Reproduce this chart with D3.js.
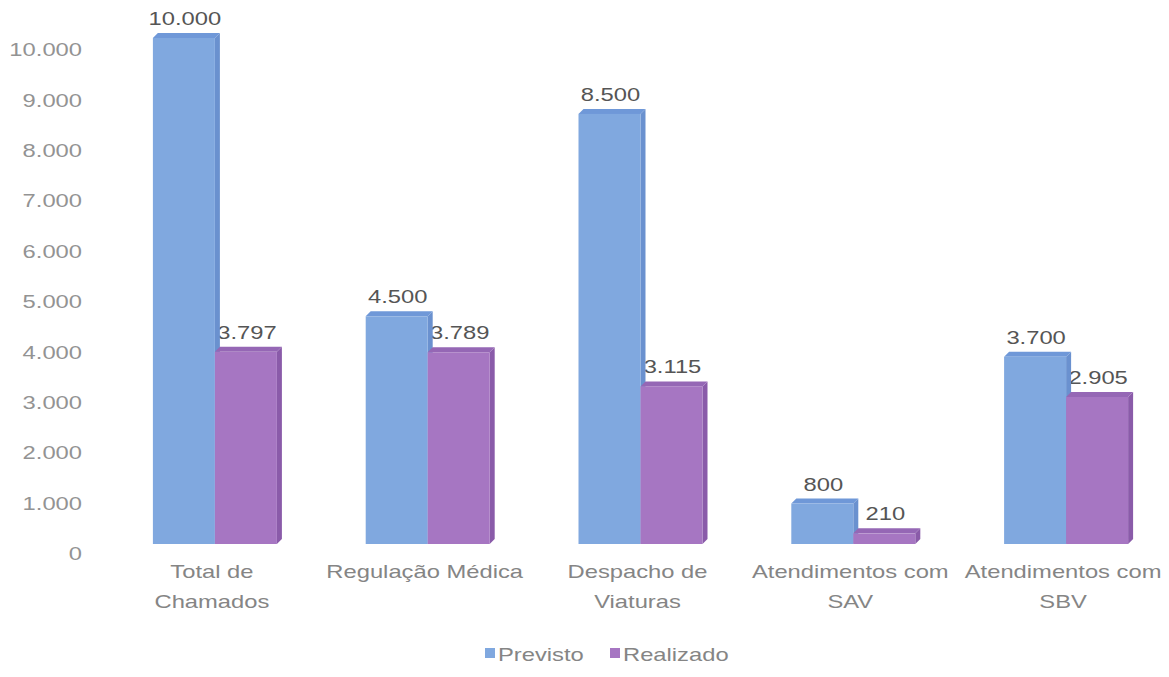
<!DOCTYPE html>
<html>
<head>
<meta charset="utf-8">
<script src="https://cdn.jsdelivr.net/npm/d3@7"></script>
<style>
  body { margin: 0; background: #fff; }
  text { font-family: "Liberation Sans", Arial, sans-serif; }
</style>
</head>
<body>
<div id="chart-area"></div>
<script>
// Data
let categories = [["Total de", "Chamados"], ["Regulação Médica"], ["Despacho de", "Viaturas"], ["Atendimentos com", "SAV"], ["Atendimentos com", "SBV"]];
let seriesNames = ["Previsto", "Realizado"];
let previsto = [10000, 4500, 8500, 800, 3700];
let realizado = [3797, 3789, 3115, 210, 2905];
let tickValues = [0, 1000, 2000, 3000, 4000, 5000, 6000, 7000, 8000, 9000, 10000];

let colors = {
    Previsto: {front: "#80a8df", top: "#6f98d8", side: "#6a91cf"},
    Realizado: {front: "#a676c2", top: "#9567b5", side: "#8a5ba9"}
};

let width = 1169, height = 677;
let stretch = 1.25; // text in the reference is wider than normal
let depth = {dx: 5, dy: -5};

let svg = d3.select("#chart-area").append("svg")
    .attr("width", width)
    .attr("height", height);

let fmt = v => d3.format(",")(v).replace(/,/g, ".");

// Scales
let x0 = d3.scaleBand()
    .domain(d3.range(categories.length))
    .range([108.5, 1172.5]);

let x1 = d3.scaleBand()
    .domain(seriesNames)
    .range([-62, 62]);

// axis labels sit on the back wall, bars a bit lower/forward
let yAxisScale = d3.scaleLinear().domain([0, 10000]).range([553, 49]);
let yBar = d3.scaleLinear().domain([0, 10000]).range([544, 38]);

function stretchText(sel, x, y) {
    sel.attr("transform", (d, i) => "translate(" + x(d, i) + "," + y(d, i) + ") scale(" + stretch + ",1)");
}

// Y axis labels
let yAxis = d3.axisLeft(yAxisScale)
    .tickValues(tickValues)
    .tickFormat(fmt)
    .tickSize(0)
    .tickPadding(0);

let yAxisGroup = svg.append("g")
    .attr("class", "y-axis")
    .attr("transform", "translate(82,0)")
    .call(yAxis);
yAxisGroup.select(".domain").remove();
yAxisGroup.selectAll("text")
    .attr("fill", "#939393")
    .style("font-size", "19px")
    .attr("x", 0)
    .attr("dy", "0.35em")
    .attr("transform", "scale(" + stretch + ",1)")
    .attr("text-anchor", "end");

// Flatten data
let rows = [];
categories.forEach((c, i) => {
    rows.push({cat: i, series: "Previsto", value: previsto[i]});
    rows.push({cat: i, series: "Realizado", value: realizado[i]});
});

let barX = d => x0(d.cat) + x0.bandwidth() / 2 + x1(d.series);
let bw = x1.bandwidth();
let base = yBar(0);

function labels(data) {
    svg.append("g").selectAll("text")
        .data(data)
        .enter().append("text")
        .attr("text-anchor", "middle")
        .attr("fill", "#555555")
        .style("font-size", "19px")
        .text(d => fmt(d.value))
        .call(stretchText, d => barX(d) + bw / 2 + 1, d => yBar(d.value) - 13);
}

// Realizado labels go behind the bars (as in the reference)
labels(rows.filter(d => d.series === "Realizado"));

// Draw 3D bars
let bars = svg.append("g").selectAll("g.bar")
    .data(rows)
    .enter().append("g")
    .attr("class", "bar");

bars.append("path")
    .attr("fill", d => colors[d.series].side)
    .attr("d", d => {
        let xr = barX(d) + bw, yt = yBar(d.value);
        return "M" + xr + "," + yt + "L" + (xr + depth.dx) + "," + (yt + depth.dy) +
            "L" + (xr + depth.dx) + "," + (base + depth.dy) + "L" + xr + "," + base + "Z";
    });

bars.append("path")
    .attr("fill", d => colors[d.series].top)
    .attr("d", d => {
        let xl = barX(d), yt = yBar(d.value);
        return "M" + xl + "," + yt + "L" + (xl + depth.dx) + "," + (yt + depth.dy) +
            "L" + (xl + bw + depth.dx) + "," + (yt + depth.dy) + "L" + (xl + bw) + "," + yt + "Z";
    });

bars.append("rect")
    .attr("fill", d => colors[d.series].front)
    .attr("x", d => barX(d))
    .attr("y", d => yBar(d.value))
    .attr("width", bw)
    .attr("height", d => base - yBar(d.value));

labels(rows.filter(d => d.series === "Previsto"));

// Category labels
let catGroup = svg.append("g").selectAll("text")
    .data(categories)
    .enter().append("text")
    .attr("text-anchor", "middle")
    .attr("fill", "#858585")
    .style("font-size", "19px")
    .call(stretchText, (d, i) => x0(i) + x0.bandwidth() / 2 - 3, () => 578);

catGroup.selectAll("tspan")
    .data(d => d)
    .enter().append("tspan")
    .attr("x", 0)
    .attr("dy", (d, i) => i === 0 ? 0 : 30)
    .text(d => d);

// Legend
let legendX = [485, 610];
let legend = svg.append("g").selectAll("g")
    .data(seriesNames)
    .enter().append("g")
    .attr("transform", (d, i) => "translate(" + legendX[i] + ",648)");

legend.append("rect")
    .attr("width", 10)
    .attr("height", 10)
    .attr("fill", d => colors[d].front);

legend.append("text")
    .attr("fill", "#858585")
    .style("font-size", "19px")
    .attr("transform", "translate(13,13) scale(" + stretch + ",1)")
    .text(d => d);
</script>
</body>
</html>
